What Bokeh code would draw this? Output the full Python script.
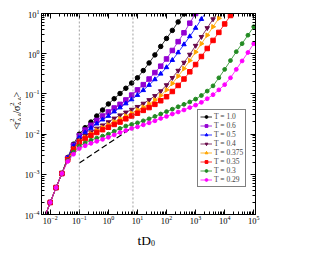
import numpy as np
from math import pi
from bokeh.plotting import figure
from bokeh.layouts import row, column
from bokeh.models import (Range1d, LogAxis, FixedTicker, Span, Legend,
                          LegendItem, CustomJSTickFormatter)
from bokeh.core.properties import value
from bokeh.embed import file_html
from bokeh.resources import INLINE

# sampling times (log10 of t D0)
LOG_T = [-2.2, -2.0, -1.8, -1.6, -1.4, -1.2, -1.0, -0.8, -0.6, -0.4, -0.2,
         0.0, 0.2, 0.4, 0.6, 0.8, 1.0, 1.2, 1.4, 1.6, 1.8, 2.0, 2.2, 2.4,
         2.6, 2.8, 3.0, 3.2, 3.4, 3.6, 3.8, 4.0, 4.2, 4.4, 4.6, 4.8, 5.0]

TEMPS = ["1.0", "0.6", "0.5", "0.4", "0.375", "0.35", "0.3", "0.29"]

# log10 of <r^2_AA / sigma^2_AA>
msd_T1_0 = [-4.08, -3.70, -3.33, -2.98, -2.58, -2.25, -2.0, -1.84, -1.7, -1.55,
            -1.4, -1.25, -1.12, -0.99, -0.86, -0.73, -0.6, -0.42, -0.23, -0.03,
            0.18, 0.38, 0.58, 0.79, 0.99, 1.19]
msd_T0_6 = [-4.08, -3.70, -3.33, -2.98, -2.6, -2.28, -2.04, -1.9, -1.78, -1.66,
            -1.55, -1.45, -1.35, -1.26, -1.15, -1.03, -0.9, -0.77, -0.63, -0.47,
            -0.31, -0.13, 0.08, 0.3, 0.52, 0.76, 1.0, 1.24]
msd_T0_5 = [-4.08, -3.70, -3.33, -2.98, -2.6, -2.3, -2.08, -1.96, -1.85, -1.74,
            -1.64, -1.55, -1.44, -1.34, -1.24, -1.14, -1.03, -0.91, -0.78, -0.64,
            -0.5, -0.34, -0.16, 0.03, 0.23, 0.43, 0.64, 0.86, 1.08]
msd_T0_4 = [-4.08, -3.70, -3.33, -2.98, -2.62, -2.35, -2.15, -2.04, -1.95, -1.86,
            -1.78, -1.7, -1.61, -1.53, -1.46, -1.39, -1.32, -1.24, -1.15, -1.05,
            -0.93, -0.78, -0.6, -0.42, -0.22, -0.02, 0.2, 0.42, 0.64, 0.86, 1.08]
msd_T0_375 = [-4.08, -3.70, -3.33, -2.98, -2.63, -2.37, -2.18, -2.08, -1.99, -1.91,
              -1.84, -1.77, -1.69, -1.62, -1.55, -1.48, -1.4, -1.33, -1.25, -1.15,
              -1.04, -0.9, -0.74, -0.56, -0.37, -0.17, 0.04, 0.25, 0.46, 0.67,
              0.88, 1.09]
msd_T0_35 = [-4.08, -3.70, -3.33, -2.98, -2.64, -2.38, -2.2, -2.11, -2.03, -1.96,
             -1.89, -1.83, -1.76, -1.7, -1.62, -1.55, -1.48, -1.41, -1.34, -1.26,
             -1.17, -1.07, -0.94, -0.79, -0.63, -0.45, -0.27, -0.07, 0.13, 0.33,
             0.53, 0.74, 0.95, 1.16]
msd_T0_3 = [-4.08, -3.70, -3.33, -2.98, -2.66, -2.45, -2.3, -2.22, -2.15, -2.1,
            -2.05, -2.0, -1.93, -1.86, -1.8, -1.76, -1.72, -1.67, -1.62, -1.56,
            -1.5, -1.44, -1.38, -1.32, -1.26, -1.2, -1.13, -1.04, -0.93, -0.8,
            -0.6, -0.39, -0.17, 0.05, 0.25, 0.46, 0.67]
msd_T0_29 = [-4.08, -3.70, -3.33, -2.98, -2.68, -2.5, -2.36, -2.29, -2.23, -2.18,
             -2.13, -2.08, -2.02, -1.96, -1.91, -1.86, -1.82, -1.77, -1.72, -1.67,
             -1.61, -1.56, -1.5, -1.45, -1.4, -1.34, -1.28, -1.21, -1.12, -1.02,
             -0.9, -0.77, -0.6, -0.39, -0.18, 0.03, 0.25]

SERIES = [msd_T1_0, msd_T0_6, msd_T0_5, msd_T0_4, msd_T0_375, msd_T0_35,
          msd_T0_3, msd_T0_29]

# reference guides
VLINES_T = [0.1, 7.0]
GUIDE_T = [0.1, 7.0]
GUIDE_Y = [0.0019, 0.015]

COLORS = ["#000000", "#9400D3", "#0000FF", "#670748", "#FFA500", "#FF0000",
          "#228B22", "#FF00FF"]
MARKERS = ["circle", "square", "triangle", "inverted_triangle", "triangle",
           "square", "circle", "circle"]
ANGLES = [0, 0, 0, 0, -pi / 2, 0, 0, 0]
SIZES = [4.5, 4.5, 4.5, 4.5, 4.5, 4.5, 3.8, 3.8]

FONT = "Liberation Serif"
TOTAL_W, TOTAL_H = 322, 247
LW = 21            # width of the y-label strip
MH = 228           # height of the main plot
FL, FT, FR, FB = 39, 13, 255, 214   # frame edges, page pixels

p = figure(width=TOTAL_W - LW, height=MH, x_axis_type="log", y_axis_type="log",
           x_range=Range1d(0.005, 1.15e5), y_range=Range1d(1e-4, 10),
           output_backend="svg", toolbar_location=None,
           min_border_left=FL - LW, min_border_right=TOTAL_W - FR,
           min_border_top=FT, min_border_bottom=MH - FB)
p.xgrid.visible = False
p.ygrid.visible = False
p.outline_line_color = "black"
p.outline_line_width = 1

xmaj = [10.0 ** k for k in range(-3, 7)]
xmin = [m * 10.0 ** k for k in range(-3, 7) for m in range(2, 10)]
ymaj = [10.0 ** k for k in range(-5, 3)]
ymin = [m * 10.0 ** k for k in range(-5, 3) for m in range(2, 10)]


def style(ax, show):
    ax.major_tick_in = 5
    ax.major_tick_out = 0
    ax.minor_tick_in = 3
    ax.minor_tick_out = 0
    ax.axis_line_color = "black"
    ax.major_tick_line_color = "black"
    ax.minor_tick_line_color = "black"
    ax.major_label_text_font = FONT
    ax.major_label_text_color = "black"
    if show:
        ax.major_label_text_font_size = "8.5px"
        ax.major_label_standoff = 1
    else:
        ax.formatter = CustomJSTickFormatter(code="return ''")
        ax.major_label_text_font_size = "1px"
        ax.major_label_standoff = 0


p.xaxis.ticker = FixedTicker(ticks=xmaj, minor_ticks=xmin)
p.yaxis.ticker = FixedTicker(ticks=ymaj, minor_ticks=ymin)
style(p.xaxis[0], True)
style(p.yaxis[0], True)
p.yaxis[0].major_label_standoff = 2

top = LogAxis(ticker=FixedTicker(ticks=xmaj, minor_ticks=xmin))
right = LogAxis(ticker=FixedTicker(ticks=ymaj, minor_ticks=ymin))
style(top, False)
style(right, False)
p.add_layout(top, "above")
p.add_layout(right, "right")

for v in VLINES_T:
    p.add_layout(Span(location=v, dimension="height", line_color="#888888",
                      line_dash="2 2", line_width=0.8))

p.line(GUIDE_T, GUIDE_Y, line_color="black", line_dash="6 3", line_width=1.2)

t_all = 10.0 ** np.array(LOG_T)
items = []
for name, ys, c, m, a, s in zip(TEMPS, SERIES, COLORS, MARKERS, ANGLES, SIZES):
    t = t_all[:len(ys)]
    y = 10.0 ** np.array(ys)
    r1 = p.line(t, y, line_color=c, line_width=0.8)
    r2 = p.scatter(t, y, marker=m, angle=a, size=s, fill_color=c, line_color=c)
    items.append(LegendItem(label="T = " + name, renderers=[r1, r2]))

leg = Legend(items=items, location=(195 - FL, FB - 187))
leg.label_text_font = FONT
leg.label_text_font_size = "7.5px"
leg.glyph_width = 12
leg.glyph_height = 7
leg.label_height = 7
leg.spacing = 0
leg.padding = 2
leg.margin = 0
leg.label_standoff = 2
leg.border_line_color = "black"
leg.border_line_width = 1
p.add_layout(leg)


def strip(w, h):
    f = figure(width=w, height=h, x_range=Range1d(0, w), y_range=Range1d(0, h),
               output_backend="svg", toolbar_location=None,
               x_axis_location=None, y_axis_location=None,
               min_border=0, min_border_left=0, min_border_right=0,
               min_border_top=0, min_border_bottom=0)
    f.xgrid.visible = False
    f.ygrid.visible = False
    f.outline_line_color = None
    return f


def put(f, h, text, px, py, size, angle=0.0):
    # py is measured downward from the strip's top edge
    f.text(x=[px], y=[h - py], text=[text], angle=angle,
           text_font=value(FONT), text_font_size=value(f"{size}px"),
           text_color="black", text_baseline="alphabetic", text_align="left")


# y-axis label strip: <r^2_AA / sigma^2_AA>, reading bottom to top
ylab = strip(LW, MH)
bx = 16.0
fy = 132.0
for txt, adv in [("<", 5.6), ("r", 3.6)]:
    put(ylab, MH, txt, bx, fy, 10, pi / 2)
    fy -= adv
put(ylab, MH, "2", bx - 4.5, fy, 6.5, pi / 2)
put(ylab, MH, "AA", bx + 2.5, fy, 6.5, pi / 2)
fy -= 9.4
for txt, adv in [("/", 2.8), ("σ", 6.0)]:
    put(ylab, MH, txt, bx, fy, 10, pi / 2)
    fy -= adv
put(ylab, MH, "2", bx - 4.5, fy, 6.5, pi / 2)
put(ylab, MH, "AA", bx + 2.5, fy, 6.5, pi / 2)
fy -= 9.4
put(ylab, MH, ">", bx, fy, 10, pi / 2)

# x-axis label strip: tD_0 (strip starts at page y = MH)
XH = TOTAL_H - MH
xlab = strip(TOTAL_W, XH)
put(xlab, XH, "tD", 137, 239.5 - MH, 13.5)
put(xlab, XH, "0", 150.5, 242.5 - MH, 8)

layout = column(row(ylab, p, spacing=0), xlab, spacing=0)
open("out.html", "w").write(file_html(layout, INLINE))
